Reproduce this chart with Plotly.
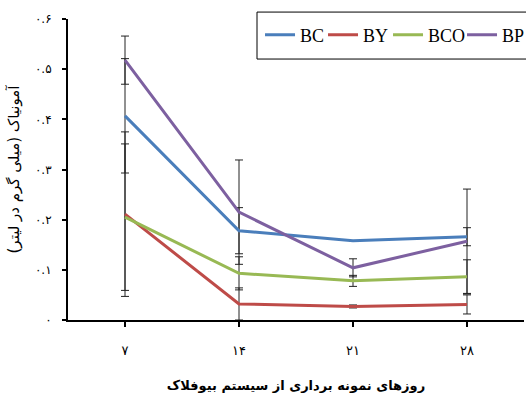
import plotly.graph_objects as go

days = ["۷", "۱۴", "۲۱", "۲۸"]
series_names = ["BC", "BY", "BCO", "BP"]
BC = [0.407, 0.178, 0.158, 0.166]
BC_err = [0.114, 0.046, 0.0, 0.018]
BY = [0.211, 0.032, 0.027, 0.031]
BY_err = [0.164, 0.032, 0.003, 0.019]
BCO = [0.205, 0.093, 0.078, 0.086]
BCO_err = [0.146, 0.033, 0.011, 0.034]
BP = [0.518, 0.215, 0.104, 0.157]
BP_err = [0.048, 0.104, 0.018, 0.104]
y_tickvals = [0, 0.1, 0.2, 0.3, 0.4, 0.5, 0.6]
y_ticktext = ["۰", "۰.۱", "۰.۲", "۰.۳", "۰.۴", "۰.۵", "۰.۶"]

colors = ["#4A7EBB", "#BE4B48", "#98B954", "#7D60A0"]
legend_widths = [18, 20, 29, 22]
vals = [BC, BY, BCO, BP]
errs = [BC_err, BY_err, BCO_err, BP_err]

fig = go.Figure()
# error bars first (under lines)
for v, e in zip(vals, errs):
    fig.add_trace(go.Scatter(
        x=days, y=v, mode="markers",
        marker=dict(size=1, opacity=0),
        error_y=dict(type="data", array=e, visible=True, color="#222222", thickness=1, width=4),
        showlegend=False, hoverinfo="skip"))
for name, v, c, lw in zip(series_names, vals, colors, legend_widths):
    fig.add_trace(go.Scatter(x=days, y=v, mode="lines", name=name,
                             line=dict(color=c, width=3), legendwidth=lw))

# legend frame
fig.add_shape(type="rect", xref="paper", yref="paper",
              x0=0.4145, x1=1.02, y0=0.867, y1=1.023,
              line=dict(color="#000000", width=1), fillcolor="rgba(0,0,0,0)", layer="above")

fig.update_layout(
    width=526, height=398,
    margin=dict(l=68, r=2, t=19, b=78, autoexpand=False),
    paper_bgcolor="white", plot_bgcolor="white",
    showlegend=True,
    legend=dict(orientation="h", x=0.4211, y=0.947, xanchor="left", yanchor="middle",
                borderwidth=0, bgcolor="rgba(0,0,0,0)",
                font=dict(family="Liberation Serif", size=18, color="#000"),
                itemwidth=30),
    xaxis=dict(type="category", range=[-0.5, 3.5], showgrid=False,
               showline=True, linecolor="black", linewidth=2,
               ticks="outside", ticklen=5, tickwidth=2, tickcolor="black",
               ticklabelstandoff=12,
               tickfont=dict(family="DejaVu Sans", size=13, color="#000"),
               title=dict(text="<b>روزهای نمونه برداری از سیستم بیوفلاک</b>",
                          font=dict(family="DejaVu Sans", size=13, color="#000"),
                          standoff=24)),
    yaxis=dict(range=[0, 0.6], showgrid=False, zeroline=False,
               showline=True, linecolor="black", linewidth=2,
               ticks="outside", ticklen=4, tickwidth=1.5, tickcolor="black",
               ticklabelstandoff=8,
               tickvals=y_tickvals, ticktext=y_ticktext,
               tickfont=dict(family="DejaVu Sans", size=12, color="#000"),
               title=dict(text="آمونیاک (میلی گرم در لیتر)",
                          font=dict(family="DejaVu Sans", size=15, color="#000"),
                          standoff=12)),
)
fig.write_html("out.html")
